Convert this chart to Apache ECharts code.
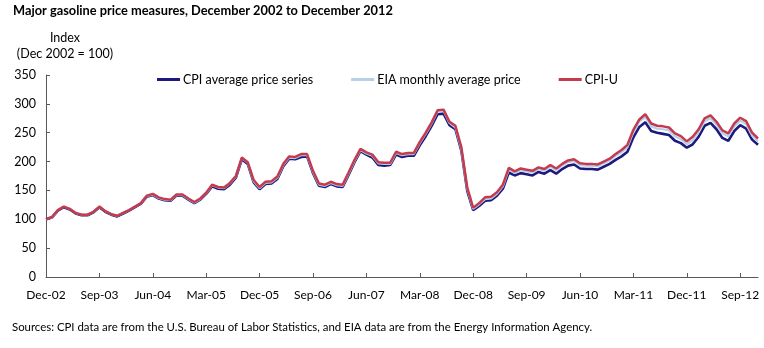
<!DOCTYPE html>
<html>
<head>
<meta charset="utf-8">
<script src="https://cdn.jsdelivr.net/npm/echarts@6/dist/echarts.min.js"></script>
<style>
  html, body { margin: 0; padding: 0; background: #fff; }
  #chart { width: 764px; height: 348px; }
</style>
</head>
<body>
<div id="chart"></div>
<script>
// Monthly index values, December 2002 = 100
const months = [
  'Dec-02',
  'Jan-03','Feb-03','Mar-03','Apr-03','May-03','Jun-03','Jul-03','Aug-03','Sep-03','Oct-03','Nov-03','Dec-03',
  'Jan-04','Feb-04','Mar-04','Apr-04','May-04','Jun-04','Jul-04','Aug-04','Sep-04','Oct-04','Nov-04','Dec-04',
  'Jan-05','Feb-05','Mar-05','Apr-05','May-05','Jun-05','Jul-05','Aug-05','Sep-05','Oct-05','Nov-05','Dec-05',
  'Jan-06','Feb-06','Mar-06','Apr-06','May-06','Jun-06','Jul-06','Aug-06','Sep-06','Oct-06','Nov-06','Dec-06',
  'Jan-07','Feb-07','Mar-07','Apr-07','May-07','Jun-07','Jul-07','Aug-07','Sep-07','Oct-07','Nov-07','Dec-07',
  'Jan-08','Feb-08','Mar-08','Apr-08','May-08','Jun-08','Jul-08','Aug-08','Sep-08','Oct-08','Nov-08','Dec-08',
  'Jan-09','Feb-09','Mar-09','Apr-09','May-09','Jun-09','Jul-09','Aug-09','Sep-09','Oct-09','Nov-09','Dec-09',
  'Jan-10','Feb-10','Mar-10','Apr-10','May-10','Jun-10','Jul-10','Aug-10','Sep-10','Oct-10','Nov-10','Dec-10',
  'Jan-11','Feb-11','Mar-11','Apr-11','May-11','Jun-11','Jul-11','Aug-11','Sep-11','Oct-11','Nov-11','Dec-11',
  'Jan-12','Feb-12','Mar-12','Apr-12','May-12','Jun-12','Jul-12','Aug-12','Sep-12','Oct-12','Nov-12','Dec-12'
];

const cpiAveragePrice = [
  100,
  103, 115, 121, 117, 110, 107, 107, 112, 121, 113, 108, 105,
  110, 115, 121, 127, 139, 142, 136, 133, 132, 141, 141, 134,
  128, 134, 144, 157, 153, 152, 160, 172, 204, 196, 164, 152,
  161, 162, 170, 192, 205, 204, 208, 209, 180, 158, 156, 161,
  157, 156, 177, 199, 218, 212, 207, 194, 193, 194, 212, 208,
  210, 210, 228, 244, 262, 282, 283, 263, 256, 219, 149, 116,
  123, 132, 133, 141, 153, 181, 176, 180, 178, 176, 182, 179,
  185, 179, 187, 193, 195, 188, 187, 187, 186, 191, 196, 203,
  209, 217, 242, 260, 268, 253, 250, 248, 246, 236, 232, 224,
  230, 243, 262, 267, 256, 241, 236, 253, 263, 257, 238, 229
];

const eiaMonthlyAverage = [
  100,
  103, 116, 122, 118, 111, 108, 108, 113, 122, 114, 109, 106,
  111, 116, 122, 128, 140, 143, 137, 134, 133, 142, 142, 135,
  129, 135, 145, 159, 155, 154, 162, 174, 206, 198, 166, 154,
  163, 164, 172, 194, 207, 206, 211, 211, 182, 160, 158, 163,
  159, 158, 179, 201, 220, 214, 210, 197, 196, 196, 215, 211,
  213, 213, 232, 248, 266, 287, 288, 267, 259, 222, 152, 118,
  126, 135, 136, 144, 157, 186, 180, 185, 183, 181, 187, 184,
  191, 185, 193, 199, 201, 194, 193, 193, 192, 197, 202, 210,
  216, 225, 251, 269, 277, 261, 257, 256, 254, 244, 239, 230,
  237, 251, 270, 275, 264, 249, 244, 261, 271, 265, 245, 235
];

const cpiU = [
  100,
  104, 116, 122, 118, 111, 108, 108, 113, 122, 114, 109, 106,
  111, 116, 122, 128, 141, 144, 138, 135, 134, 143, 143, 136,
  130, 136, 146, 160, 156, 155, 163, 175, 207, 199, 168, 156,
  165, 166, 174, 196, 209, 208, 213, 213, 184, 162, 160, 165,
  161, 160, 181, 203, 222, 216, 212, 199, 198, 198, 217, 213,
  215, 215, 234, 250, 268, 289, 290, 269, 262, 225, 155, 120,
  128, 138, 139, 147, 160, 189, 183, 188, 186, 184, 190, 187,
  194, 188, 196, 202, 204, 197, 196, 196, 195, 200, 205, 213,
  220, 229, 255, 273, 282, 266, 262, 261, 259, 249, 244, 235,
  243, 256, 275, 280, 269, 254, 249, 266, 276, 270, 250, 240
];

const seriesNames = ['CPI average price series', 'EIA monthly average price', 'CPI-U'];
const yTicks = { min: 0, max: 350, interval: 50 };

const FONT = 'Lato, "Open Sans", sans-serif';
const chart = echarts.init(document.getElementById('chart'));

chart.setOption({
  animation: false,
  backgroundColor: '#ffffff',
  textStyle: { fontFamily: FONT },
  title: [
    {
      text: 'Major gasoline price measures, December 2002 to December 2012',
      left: 13, top: 4, padding: 0,
      textStyle: { fontFamily: FONT, fontSize: 12.8, fontWeight: 'bold', color: '#000' }
    },
    {
      text: 'Index\n(Dec 2002 = 100)',
      left: 65, top: 30, padding: 0,
      textAlign: 'center',
      textStyle: { fontFamily: FONT, fontSize: 12.5, fontWeight: 'normal', color: '#000', lineHeight: 16, align: 'center' }
    },
    {
      text: 'Sources: CPI data are from the U.S. Bureau of Labor Statistics, and EIA data are from the Energy Information Agency.',
      left: 12, top: 322, padding: 0,
      textStyle: { fontFamily: FONT, fontSize: 11.4, fontWeight: 'normal', color: '#000' }
    }
  ],
  legend: {
    data: seriesNames,
    left: 157, top: 73, padding: 0,
    icon: 'rect',
    itemWidth: 23, itemHeight: 3,
    itemGap: 38,
    textStyle: { fontFamily: FONT, fontSize: 12.5, color: '#000', padding: [0, 0, 0, -2] }
  },
  grid: { left: 46, right: 6, top: 75, bottom: 71, containLabel: false },
  xAxis: {
    type: 'category',
    data: months,
    boundaryGap: false,
    axisLine: { lineStyle: { color: '#595959', width: 1 } },
    axisTick: { interval: 8, inside: true, length: 4, lineStyle: { color: '#595959' } },
    axisLabel: { interval: 8, color: '#000', fontSize: 12, margin: 12, fontFamily: FONT },
    splitLine: { show: false }
  },
  yAxis: {
    type: 'value',
    min: yTicks.min, max: yTicks.max, interval: yTicks.interval,
    axisLine: { show: true, lineStyle: { color: '#595959', width: 1 } },
    axisTick: { show: true, inside: true, length: 4, lineStyle: { color: '#595959' } },
    axisLabel: { color: '#000', fontSize: 12.5, margin: 10, fontFamily: FONT },
    splitLine: { show: false }
  },
  series: [
    {
      name: seriesNames[0], type: 'line', data: cpiAveragePrice,
      showSymbol: false, symbol: 'none', z: 2,
      color: '#1c1a7e',
      lineStyle: { color: '#1c1a7e', width: 2.6 }
    },
    {
      name: seriesNames[1], type: 'line', data: eiaMonthlyAverage,
      showSymbol: false, symbol: 'none', z: 3,
      color: '#b7d0ea',
      lineStyle: { color: '#b7d0ea', width: 2.2 }
    },
    {
      name: seriesNames[2], type: 'line', data: cpiU,
      showSymbol: false, symbol: 'none', z: 4,
      color: '#c33b4c',
      lineStyle: { color: '#c33b4c', width: 2.5 }
    }
  ]
});
</script>
</body>
</html>
